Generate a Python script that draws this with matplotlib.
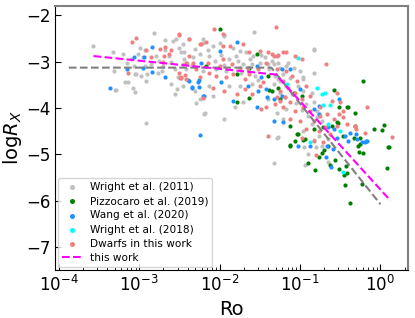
import numpy as np
import matplotlib
matplotlib.use('Agg')
import matplotlib.pyplot as plt

# points as (log Ro, log Rx)
wright11 = [
    (-3.57, -2.66), (-3.33, -2.80), (-3.20, -2.84), (-3.29, -3.62), (-3.32, -3.20), (-3.14, -3.44),
    (-3.08, -3.58), (-3.05, -3.65), (-2.92, -4.33), (-2.82, -2.39), (-2.99, -2.70), (-3.02, -2.83),
    (-2.93, -2.75), (-3.06, -3.09), (-3.05, -3.27), (-2.93, -3.09), (-2.90, -3.27), (-2.91, -3.42),
    (-2.79, -2.88), (-2.75, -2.98), (-2.77, -3.24), (-2.68, -2.53), (-2.68, -2.75), (-2.70, -3.09),
    (-2.63, -2.88), (-2.56, -3.16), (-2.58, -2.55), (-2.54, -2.52), (-2.52, -3.34), (-2.60, -3.49),
    (-2.53, -3.59), (-2.56, -3.70), (-2.50, -2.70), (-2.44, -2.80), (-2.46, -3.06), (-2.40, -3.02),
    (-3.30, -3.61), (-3.18, -3.44), (-2.18, -4.11), (-2.29, -3.90), (-3.15, -3.02), (-3.04, -3.27),
    (-2.98, -3.32),
    (-2.46, -2.63), (-2.38, -2.52), (-2.31, -2.73), (-2.21, -2.52), (-2.08, -2.66), (-2.00, -2.59),
    (-1.94, -2.45), (-1.83, -2.70), (-1.75, -2.77), (-1.67, -2.80), (-1.58, -2.88), (-1.44, -2.91),
    (-1.35, -2.98), (-1.27, -3.02), (-1.50, -3.02), (-2.48, -2.80), (-2.44, -2.95), (-2.33, -2.91),
    (-2.25, -2.84), (-2.13, -2.88), (-2.06, -2.98), (-1.88, -2.95), (-1.77, -2.98), (-1.71, -3.06),
    (-1.60, -3.06), (-2.42, -3.16), (-2.21, -3.20), (-2.04, -3.16), (-1.92, -3.20), (-1.73, -3.24),
    (-1.56, -3.31), (-1.38, -3.16), (-1.31, -3.31), (-1.25, -3.42), (-1.21, -3.27), (-1.17, -3.52),
    (-2.46, -3.52), (-2.31, -3.63), (-2.13, -3.52), (-2.08, -3.74), (-1.88, -3.52), (-1.75, -3.52),
    (-1.60, -3.49), (-1.33, -3.49), (-1.25, -3.67), (-2.19, -4.13), (-1.94, -4.23), (-1.81, -3.99),
    (-1.71, -3.88), (-1.40, -3.81), (-1.29, -4.10), (-1.21, -4.24), (-2.25, -3.81), (-1.94, -2.43),
    (-1.57, -2.36), (-0.83, -2.75), (-2.21, -2.59),
    (-1.33, -3.06), (-1.25, -3.13), (-1.15, -3.02), (-1.08, -3.13), (-1.00, -3.20), (-0.96, -3.34),
    (-0.83, -3.24), (-1.27, -3.38), (-1.02, -3.52), (-0.96, -3.63), (-0.85, -3.67), (-0.83, -3.88),
    (-0.92, -3.92), (-0.79, -4.06), (-0.73, -4.28), (-0.90, -4.17), (-0.85, -4.35), (-0.77, -4.60),
    (-0.96, -4.49), (-0.65, -4.67), (-1.29, -4.64), (-1.17, -4.03), (-1.19, -3.77), (-0.83, -2.73),
    (-0.79, -4.20), (-1.28, -4.62), (-1.32, -5.18), (-0.94, -5.23), (-0.90, -5.00), (-0.73, -4.82),
    (-0.65, -5.16), (-0.83, -4.69), (-0.95, -4.85), (-0.80, -4.85), (-0.96, -3.38),
    (-2.15, -2.75), (-1.98, -2.85), (-1.80, -2.88), (-1.62, -2.95), (-1.48, -2.85), (-1.40, -3.05),
    (-2.35, -3.08), (-1.95, -3.08), (-1.65, -3.18), (-1.52, -3.40), (-1.10, -3.70), (-1.05, -3.90),
    (-0.98, -4.05), (-1.12, -3.35), (-1.18, -3.10), (-2.60, -3.00), (-2.72, -3.20), (-2.85, -3.05),
    (-3.10, -2.95), (-2.95, -2.90),
]

pizzocaro19 = [
    (-2.00, -2.30), (-1.53, -2.84), (-2.17, -3.09), (-1.78, -3.27), (-1.63, -3.13), (-1.78, -3.87),
    (-1.63, -3.79), (-1.38, -3.62), (-1.25, -3.81), (-1.28, -3.56), (-1.40, -3.31),
    (-0.22, -3.42), (-0.58, -3.61), (-0.40, -3.98), (-0.31, -4.10), (-0.31, -4.39), (-0.08, -4.46),
    (0.05, -4.36), (0.02, -4.48), (0.10, -4.84), (-0.33, -4.66), (-0.26, -4.66), (-0.28, -4.82),
    (-0.27, -4.95), (-0.22, -4.97), (-0.53, -4.33), (-0.52, -3.99), (-0.41, -3.98),
    (-1.35, -3.63), (-1.08, -3.67), (-0.98, -3.74), (-1.13, -4.39), (-1.04, -4.56), (-1.06, -4.71),
    (-0.94, -4.67), (-0.83, -4.46), (-0.71, -4.42), (-0.60, -4.40), (-0.54, -4.31), (-0.65, -4.82),
    (-1.13, -4.82), (-0.46, -4.60), (-1.13, -4.80), (-0.90, -5.20), (-0.82, -5.34), (-0.77, -5.07),
    (-0.73, -4.97), (-0.70, -4.90), (-0.63, -5.23), (-0.56, -5.13), (-0.51, -5.33), (-0.43, -5.26),
    (-0.45, -5.44), (-0.42, -5.41), (-0.44, -5.66), (-0.38, -6.05), (-0.23, -5.64), (0.08, -5.30),
    (0.11, -4.85), (-1.03, -4.56), (-0.96, -4.69), (-0.25, -4.78),
]

wang20 = [
    (-3.36, -3.57), (-3.15, -3.16), (-3.07, -2.91), (-2.94, -2.89), (-2.95, -3.13), (-2.84, -3.22),
    (-2.84, -2.68), (-2.68, -3.34), (-2.39, -3.40), (-2.35, -3.55), (-2.26, -3.40), (-2.26, -3.55),
    (-2.25, -4.59), (-2.20, -3.75),
    (-1.79, -2.57), (-2.00, -2.77), (-2.23, -3.02), (-2.38, -3.42), (-2.27, -3.45), (-2.34, -3.57),
    (-1.98, -3.45), (-2.21, -3.74), (-1.83, -3.85), (-1.65, -3.52), (-1.52, -3.63), (-1.54, -3.99),
    (-1.41, -3.77), (-1.42, -3.59), (-1.48, -3.34), (-1.54, -3.09), (-1.32, -4.28),
    (-0.52, -3.80), (-0.17, -4.72), (-0.30, -4.56), (-0.23, -4.74),
    (-1.23, -3.16), (-1.13, -3.16), (-1.00, -3.59), (-1.33, -3.81), (-1.23, -3.74), (-1.21, -4.31),
    (-0.77, -3.95), (-0.83, -4.03), (-0.77, -4.13), (-0.65, -4.42), (-0.58, -4.46), (-0.54, -4.64),
    (-0.44, -4.60), (-0.88, -4.82), (-1.02, -4.82), (-0.38, -4.55), (-0.18, -4.71),
    (-0.68, -5.05), (-0.62, -5.28), (-0.40, -4.71), (-0.29, -4.67), (-0.19, -4.73), (-0.66, -4.82),
    (-0.59, -4.89),
]

wright18 = [
    (-1.03, -2.93), (-0.79, -3.56), (-0.73, -3.69), (-0.69, -3.67), (-0.71, -3.94), (-0.63, -3.94),
    (-0.50, -4.49), (-0.88, -4.74), (-0.65, -4.35), (-0.46, -5.39), (-1.16, -3.49),
]

dwarfs = [
    (-3.09, -2.57), (-3.04, -2.50), (-2.91, -2.75), (-2.85, -2.90), (-3.14, -3.24), (-2.74, -2.73),
    (-2.68, -2.69), (-2.61, -2.75), (-2.63, -2.84), (-2.69, -2.88), (-2.51, -2.42), (-2.49, -3.36),
    (-2.43, -3.29), (-2.71, -3.01), (-2.38, -2.52), (-2.21, -3.79), (-2.24, -2.63), (-2.48, -3.36),
    (-2.07, -2.30), (-2.50, -2.41), (-1.30, -2.26), (-1.96, -2.41), (-2.23, -2.63), (-2.17, -2.57),
    (-1.96, -2.66), (-1.87, -2.66), (-1.71, -2.63), (-1.63, -2.80), (-1.50, -2.77), (-1.40, -2.80),
    (-1.33, -2.88), (-1.27, -2.86), (-1.42, -3.02), (-2.38, -2.88), (-2.42, -3.02), (-2.29, -3.16),
    (-2.13, -3.24), (-2.04, -3.31), (-1.92, -3.34), (-1.83, -3.27), (-1.69, -3.38), (-1.63, -3.27),
    (-1.52, -3.16), (-1.46, -3.45), (-2.25, -3.34), (-2.48, -3.34), (-2.42, -3.38), (-2.08, -3.56),
    (-1.94, -3.63), (-1.79, -3.70), (-1.69, -3.59), (-1.60, -3.70), (-1.50, -3.52), (-1.42, -3.99),
    (-1.31, -3.92), (-1.25, -3.85), (-1.19, -3.77), (-1.48, -4.03), (-1.85, -3.06), (-2.00, -3.09),
    (-2.15, -3.02), (-1.75, -3.13), (-1.65, -3.13), (-1.17, -2.80), (-1.29, -3.16), (-1.96, -2.95),
    (-2.33, -3.02), (-2.50, -3.24),
    (-0.68, -3.06), (-0.17, -3.98), (-0.47, -4.06), (-0.42, -4.35), (0.15, -4.62), (-1.35, -2.84),
    (-1.29, -2.88), (-1.21, -2.80), (-1.06, -2.88), (-0.98, -2.95), (-1.17, -3.20), (-1.10, -3.31),
    (-1.21, -3.42), (-1.15, -3.56), (-1.04, -3.42), (-1.25, -3.63), (-1.29, -3.77), (-1.06, -3.67),
    (-0.98, -3.81), (-1.13, -3.88), (-1.21, -3.99), (-1.06, -4.06), (-0.96, -3.99), (-0.88, -4.06),
    (-1.13, -4.24), (-1.00, -4.28), (-0.83, -4.28), (-0.75, -4.17), (-0.67, -4.13), (-0.92, -4.46),
    (-0.77, -4.49), (-0.69, -4.42), (-0.58, -4.24), (-0.52, -4.13), (-0.46, -4.20), (-0.63, -4.56),
    (-0.54, -4.39), (-0.98, -4.64), (-0.83, -4.71), (-0.71, -4.74), (-0.54, -3.67), (-0.60, -3.85),
    (-0.50, -3.88), (-0.30, -4.46), (-0.75, -3.99), (-0.92, -3.52), (-0.88, -3.74), (-1.40, -4.60),
    (-0.80, -5.02), (-0.19, -4.54), (-0.31, -4.40),
]

# fitted relations (break points)
wright_fit_ro = [1.33e-4, 0.044, 1.0]
wright_fit_rx = [-3.13, -3.13, -6.08]
this_fit_ro = [2.7e-4, 0.05, 1.33]
this_fit_rx = [-2.88, -3.28, -6.0]

series = [
    (wright11, 'silver', 'Wright et al. (2011)'),
    (pizzocaro19, 'green', 'Pizzocaro et al. (2019)'),
    (wang20, 'dodgerblue', 'Wang et al. (2020)'),
    (wright18, 'cyan', 'Wright et al. (2018)'),
    (dwarfs, 'lightcoral', 'Dwarfs in this work'),
]

fig = plt.figure(figsize=(4.15, 3.18), dpi=100)
ax = fig.add_axes([0.133, 0.151, 0.850, 0.830])

for pts, col, lab in series:
    arr = np.array(pts)
    ax.scatter(10 ** arr[:, 0], arr[:, 1], s=9, color=col, label=lab, linewidths=0)

ax.plot(wright_fit_ro, wright_fit_rx, ls='--', color='grey', lw=1.5)
ax.plot(this_fit_ro, this_fit_rx, ls='--', color='magenta', lw=1.5, label='this work')

ax.set_xscale('log')
ax.set_xlim(9e-5, 2.2)
ax.set_ylim(-7.5, -1.8)
ax.set_xlabel('Ro', fontsize=14)
ax.set_ylabel('log$R_X$', fontsize=14, labelpad=1)
ax.tick_params(which='both', direction='in', labelsize=12)
ax.tick_params(which='major', length=4)
ax.tick_params(which='minor', length=2)
for side in ['top', 'right']:
    ax.spines[side].set_color('grey')
    ax.spines[side].set_linewidth(1.5)

ax.legend(loc='lower left', fontsize=7.6, markerscale=1.2, handlelength=1.8,
          labelspacing=0.4, borderpad=0.4, borderaxespad=0.25)

fig.savefig('out.png', dpi=100)
